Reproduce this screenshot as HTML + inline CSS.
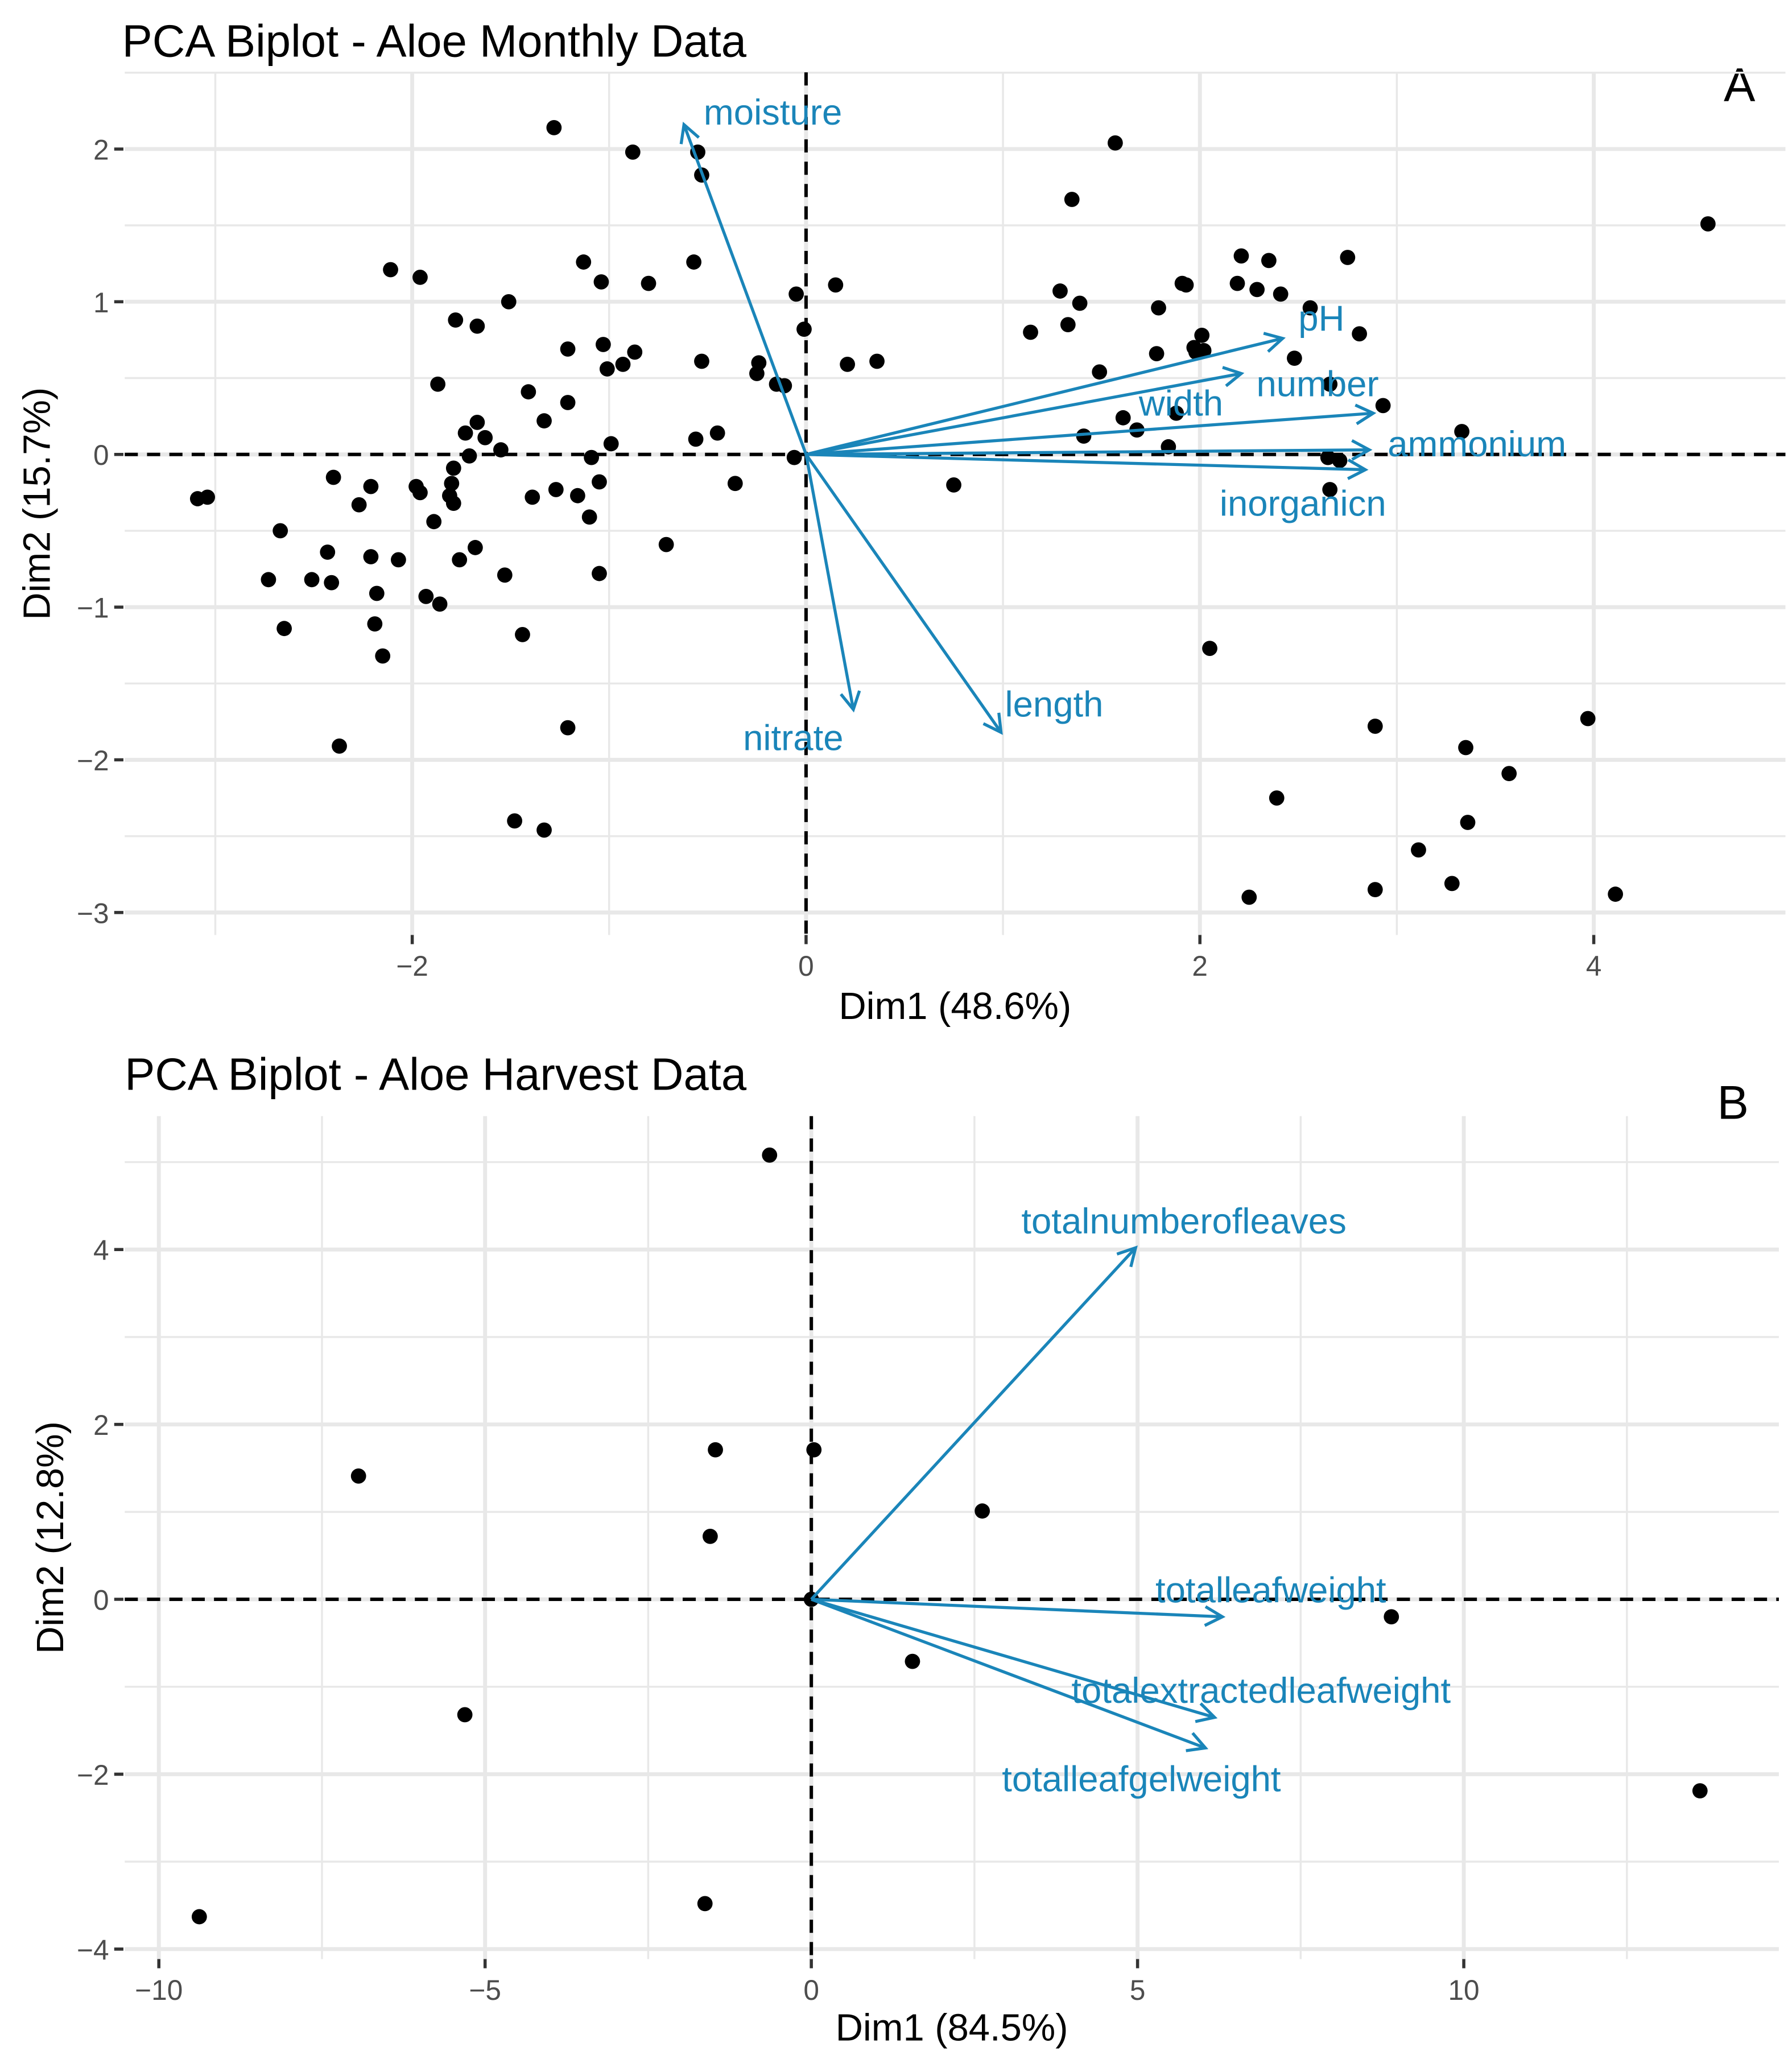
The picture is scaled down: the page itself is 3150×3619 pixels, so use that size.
<!DOCTYPE html>
<html><head><meta charset="utf-8"><style>
html,body{margin:0;padding:0;background:#fff}
svg{display:block;font-family:"Liberation Sans",Arial,sans-serif}
</style></head><body>
<svg id="chart" width="3150" height="3619" viewBox="0 0 1365 1568" xmlns="http://www.w3.org/2000/svg">
<rect width="1365" height="1568" fill="#fff"/>
<text x="93" y="43" font-size="34.5" fill="#000">PCA Biplot - Aloe Monthly Data</text>
<text x="1313" y="77" font-size="36" fill="#000">A</text>
<text x="95" y="830" font-size="34.5" fill="#000">PCA Biplot - Aloe Harvest Data</text>
<text x="1308" y="852" font-size="36" fill="#000">B</text>
<g id="pa"></g>
<g id="pb"></g>
</svg>
<script>
// Panel A data
const aPointsX = [-1.28,-0.88,-0.55,-0.53,-2.11,-1.96,-1.13,-1.04,-0.8,-0.57,-1.51,-1.78,-1.67,-1.21,-1.03,-0.87,-0.93,-1.01,-0.53,-1.87,-1.41,-1.21,-1.33,-1.67,-1.73,-1.63,-1.55,-1.71,-1.79,-1.8,-1.81,-1.79,-1.89,-1.76,-1.68,-1.53,-1.86,-1.93,-1.98,-1.96,-2.07,-2.21,-2.27,-2.4,-2.43,-2.67,-2.73,-2.51,-2.41,-2.21,-2.18,-2.19,-2.15,-2.65,-2.37,-3.09,-3.04,-1.44,-1.48,-1.33,-1.21,-1.05,-1.1,-1.16,-1.27,-1.39,-1.09,-1.05,-0.99,-0.71,-0.56,-0.45,-0.36,-0.24,-0.25,-0.15,-0.11,-0.06,-0.05,-0.01,0.15,0.21,0.36,0.75,1.57,1.35,1.29,1.39,1.33,1.14,1.49,1.79,1.78,1.91,1.93,1.97,2.01,2.02,1.98,2.21,2.35,2.19,2.29,2.41,2.75,2.56,2.81,2.48,2.66,2.93,1.41,1.61,1.68,1.88,1.84,2.65,2.71,2.66,3.33,4.58,2.05,2.89,3.97,3.35,3.57,2.39,3.36,3.11,3.28,2.89,2.25,4.11];
const aPointsY = [2.14,1.98,1.98,1.83,1.21,1.16,1.26,1.13,1.12,1.26,1.0,0.88,0.84,0.69,0.72,0.67,0.59,0.56,0.61,0.46,0.41,0.34,0.22,0.21,0.14,0.11,0.03,-0.01,-0.09,-0.19,-0.27,-0.32,-0.44,-0.69,-0.61,-0.79,-0.98,-0.93,-0.21,-0.25,-0.69,-0.21,-0.33,-0.15,-0.64,-0.5,-0.82,-0.82,-0.84,-0.67,-0.91,-1.11,-1.32,-1.14,-1.91,-0.29,-0.28,-1.18,-2.4,-2.46,-1.79,-0.78,-0.41,-0.27,-0.23,-0.28,-0.02,-0.18,0.07,-0.59,0.1,0.14,-0.19,0.6,0.53,0.46,0.45,-0.02,1.05,0.82,1.11,0.59,0.61,-0.2,2.04,1.67,1.07,0.99,0.85,0.8,0.54,0.96,0.66,1.12,1.11,0.7,0.78,0.68,0.67,1.3,1.27,1.12,1.08,1.05,1.29,0.96,0.79,0.63,0.46,0.32,0.12,0.24,0.16,0.27,0.05,-0.02,-0.04,-0.23,0.15,1.51,-1.27,-1.78,-1.73,-1.92,-2.09,-2.25,-2.41,-2.59,-2.81,-2.85,-2.9,-2.88];
const aVarNames = ["moisture","nitrate","length","pH","width","number","ammonium","inorganicn"];
const aVarX = [-0.62,0.24,0.99,2.42,2.21,2.88,2.86,2.84];
const aVarY = [2.16,-1.67,-1.82,0.76,0.53,0.27,0.03,-0.1];
const aXTicks = [-2,0,2,4];
const aYTicks = [-3,-2,-1,0,1,2];
// Panel B data
const bPointsX = [-0.64,-6.94,-1.47,0.04,-1.55,2.62,0,8.89,1.55,-5.31,13.62,-1.63,-9.38];
const bPointsY = [5.08,1.41,1.71,1.71,0.72,1.01,0,-0.2,-0.71,-1.32,-2.19,-3.48,-3.63];
const bVarNames = ["totalnumberofleaves","totalleafweight","totalextractedleafweight","totalleafgelweight"];
const bVarX = [4.97,6.3,6.18,6.04];
const bVarY = [4.02,-0.2,-1.35,-1.7];
const bXTicks = [-10,-5,0,5,10];
const bYTicks = [-4,-2,0,2,4];

const NS="http://www.w3.org/2000/svg";
function mk(parent,tag,attrs){const e=document.createElementNS(NS,tag);for(const k in attrs)e.setAttribute(k,attrs[k]);parent.appendChild(e);return e;}

function drawPanel(g,cfg){
  const sx=v=>cfg.x0+v*cfg.ux, sy=v=>cfg.y0-v*cfg.uy;
  const L=cfg.left,R=cfg.right,T=cfg.top,B=cfg.bottom;
  const xmin=(L-cfg.x0)/cfg.ux,xmax=(R-cfg.x0)/cfg.ux,ymin=(cfg.y0-B)/cfg.uy,ymax=(cfg.y0-T)/cfg.uy;
  const st=cfg.xstep/2;
  for(let v=Math.ceil(xmin/st)*st;v<=xmax;v+=st){
    const major=cfg.xticks.some(t=>Math.abs(t-v)<1e-6);
    const l=mk(g,'line',{x1:sx(v),x2:sx(v),y1:T,y2:B,stroke:'#e8e8e8','stroke-width':major?3:1.5});
    
    
  }
  const sty=cfg.ystep/2;
  for(let v=Math.ceil(ymin/sty)*sty;v<=ymax;v+=sty){
    const major=cfg.yticks.some(t=>Math.abs(t-v)<1e-6);
    const l=mk(g,'line',{x1:L,x2:R,y1:sy(v),y2:sy(v),stroke:'#e8e8e8','stroke-width':major?3:1.5});
    
    
  }
  cfg.xticks.forEach(t=>{
    const tk=mk(g,'line',{x1:sx(t),x2:sx(t),y1:B,y2:B+7,stroke:'#333','stroke-width':2.4});
    
    
    const tx=mk(g,'text',{x:sx(t),y:B+31,'font-size':21.5,fill:'#4d4d4d','text-anchor':'middle'});
    tx.textContent=String(t).replace('-','\u2212');
    
    
  });
  cfg.yticks.forEach(t=>{
    const tk=mk(g,'line',{x1:L-8,x2:L-1,y1:sy(t),y2:sy(t),stroke:'#333','stroke-width':2.4});
    
    
    const tx=mk(g,'text',{x:L-12,y:sy(t)+8,'font-size':21.5,fill:'#4d4d4d','text-anchor':'end'});
    tx.textContent=String(t).replace('-','\u2212');
    
    
  });
  const hz=mk(g,'line',{x1:L,x2:R,y1:sy(0),y2:sy(0),stroke:'#000','stroke-width':2.6,'stroke-dasharray':'10,7'});
  
  
  const vz=mk(g,'line',{x1:sx(0),x2:sx(0),y1:T,y2:B,stroke:'#000','stroke-width':2.6,'stroke-dasharray':'10,7'});
  
  
  cfg.px.forEach((v,i)=>{
    const c=mk(g,'circle',{cx:sx(v),cy:sy(cfg.py[i]),r:5.8,fill:'#000'});
    
    
  });
  const col='#1a85b9';
  cfg.vn.forEach((n,i)=>{
    const x1=sx(0),y1=sy(0),x2=sx(cfg.vx[i]),y2=sy(cfg.vy[i]);
    const ln=mk(g,'line',{x1,y1,x2,y2,stroke:col,'stroke-width':2.3});
    
    
    const a=Math.atan2(y2-y1,x2-x1),h=15,w=0.5;
    const hp=mk(g,'polyline',{points:`${x2-h*Math.cos(a-w)},${y2-h*Math.sin(a-w)} ${x2},${y2} ${x2-h*Math.cos(a+w)},${y2-h*Math.sin(a+w)}`,fill:'none',stroke:col,'stroke-width':2.3});
    
    
    const lp=cfg.lab[i];
    const t=mk(g,'text',{x:x2+lp[0],y:y2+lp[1],'font-size':27.5,fill:col});
    t.textContent=n;
    
    
  });
  const xt=mk(g,'text',{x:(L+R)/2,y:cfg.xtitleY,'font-size':29,fill:'#000','text-anchor':'middle'});
  xt.textContent=cfg.xtitle;
  
  
  const yt=mk(g,'text',{x:0,y:0,'font-size':29,fill:'#000','text-anchor':'middle',transform:`translate(${cfg.ytitleX},${(T+B)/2}) rotate(-90)`});
  yt.textContent=cfg.ytitle;
  
  
}
// label offsets (pixel placement of variable names relative to arrow tips)
drawPanel(document.getElementById('pa'),{x0:614,ux:150,y0:346,uy:116.3,left:95,right:1360,top:55,bottom:712,
  xstep:2,ystep:1,xticks:aXTicks,yticks:aYTicks,px:aPointsX,py:aPointsY,vn:aVarNames,vx:aVarX,vy:aVarY,
  lab:[[15,0],[-84,31],[3,-12],[12,-6],[-78,32],[-89,-13],[14,5],[-111,35]],
  xtitle:'Dim1 (48.6%)',xtitleY:776,ytitle:'Dim2 (15.7%)',ytitleX:38});
drawPanel(document.getElementById('pb'),{x0:618,ux:49.7,y0:1218,uy:66.6,left:95,right:1355,top:850,bottom:1492,
  xstep:5,ystep:2,xticks:bXTicks,yticks:bYTicks,px:bPointsX,py:bPointsY,vn:bVarNames,vx:bVarX,vy:bVarY,
  lab:[[-87,-11],[-51,-11],[-109,-11],[-155,33]],
  xtitle:'Dim1 (84.5%)',xtitleY:1554,ytitle:'Dim2 (12.8%)',ytitleX:48});
</script>
</body></html>
